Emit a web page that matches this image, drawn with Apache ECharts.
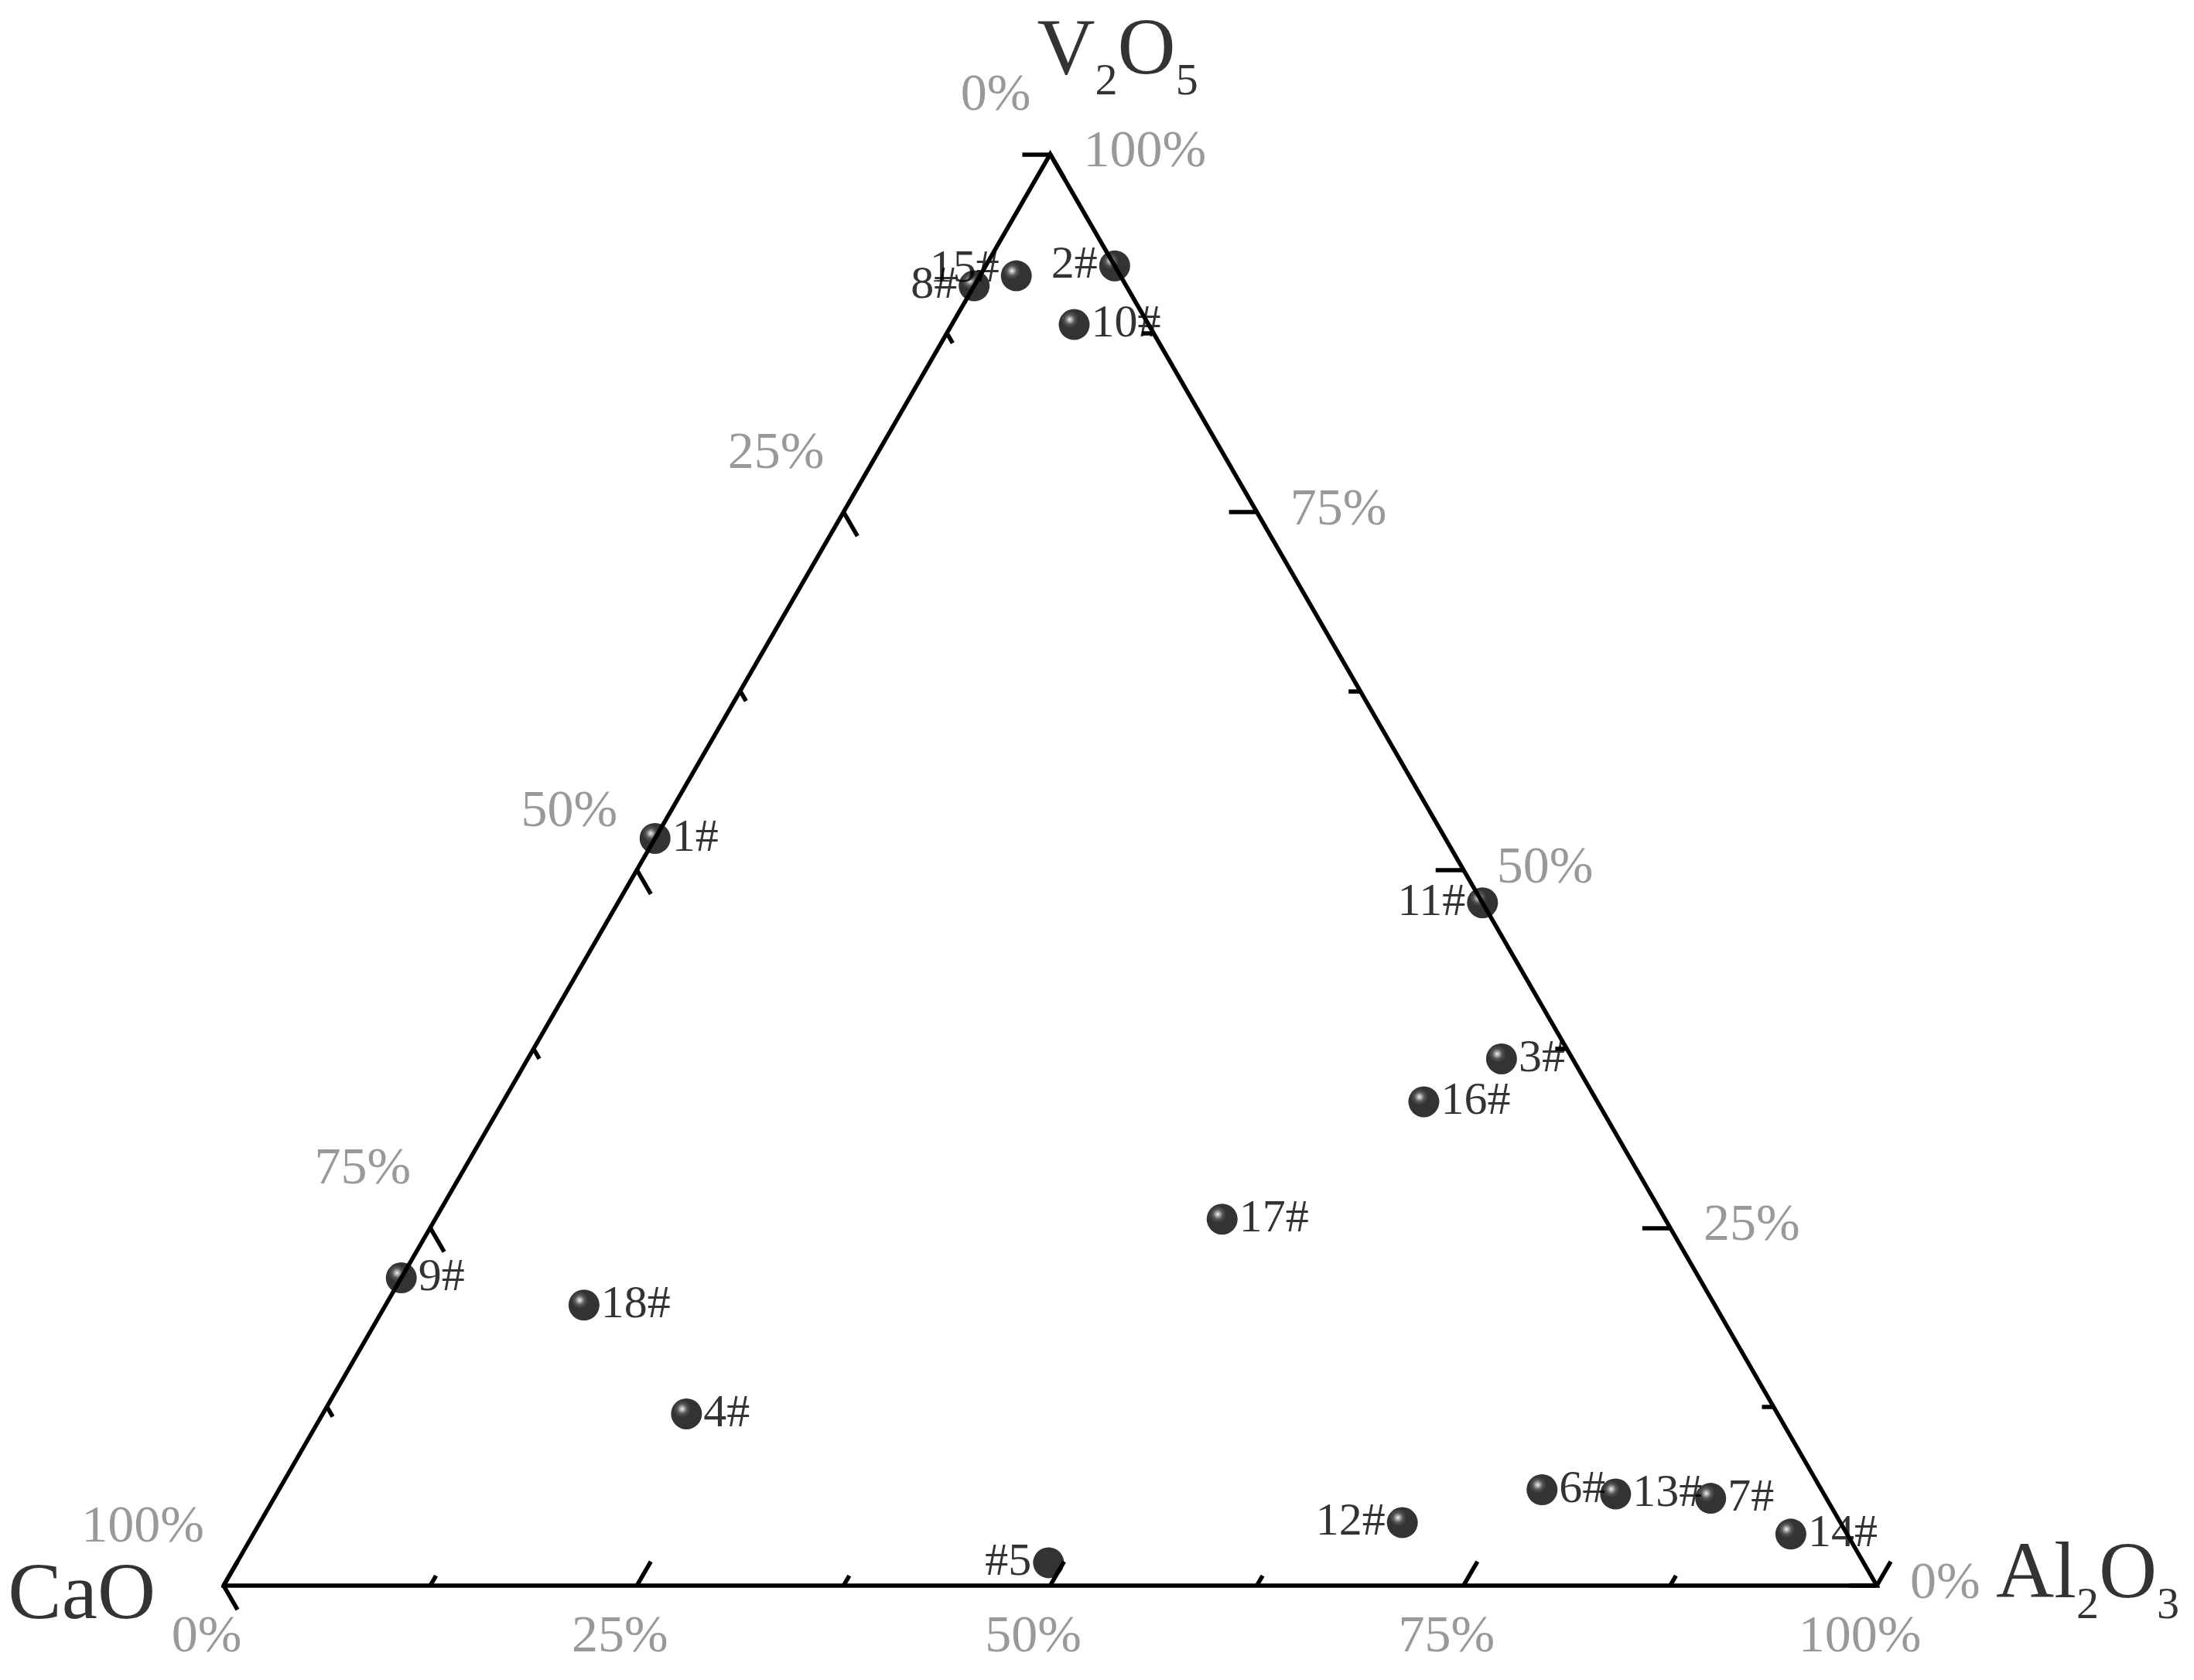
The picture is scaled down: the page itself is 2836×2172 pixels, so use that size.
<!DOCTYPE html>
<html>
<head>
<meta charset="utf-8">
<script src="https://cdn.jsdelivr.net/npm/echarts@6/dist/echarts.min.js"></script>
<style>
  html, body { margin: 0; padding: 0; background: #fff; }
  #chart { width: 2836px; height: 2172px; }
</style>
</head>
<body>
<div id="chart"></div>
<script>
// sample compositions, in percent (CaO + Al2O3 + V2O5 = 100)
const sampleNames = ['1#', '2#', '3#', '4#', '#5', '6#', '7#', '8#', '9#', '10#', '11#', '12#', '13#', '14#', '15#', '16#', '17#', '18#'];
const cao   = [47.8, 0,    4.3,  66, 49.3, 16.9, 7.0,  9.2,  78.5, 4.5,  0,    26.5, 12.6, 3.4,  6.3,  10.5, 26.8, 68.4];
const al2o3 = [0,    7.8,  58.9, 22, 49.1, 76.4, 86.9, 0,    0,    7.4,  52.3, 69.1, 81.0, 93.0, 2.2,  55.7, 47.6, 12.0];
const v2o5  = [52.2, 92.2, 36.8, 12, 1.6,  6.7,  6.1,  90.8, 21.5, 88.1, 47.7, 4.4,  6.4,  3.6,  91.5, 33.8, 25.6, 19.6];
const labelSide = ['right', 'left', 'right', 'right', 'left', 'right', 'right', 'left', 'right', 'right', 'left', 'left', 'right', 'right', 'left', 'right', 'right', 'right'];

const majorTicks = [0, 25, 50, 75, 100];
const minorTicks = [12.5, 37.5, 62.5, 87.5];
const tickLabels = ['0%', '25%', '50%', '75%', '100%'];

const H = Math.sqrt(3) / 2;
const SIDE_PX = 2137;
const FONT = 'Liberation Serif';

// ternary -> cartesian (CaO bottom-left, Al2O3 bottom-right, V2O5 top)
const toXY = (c, a, v) => {
  const s = c + a + v;
  return [a / s + v / s / 2, (v / s) * H];
};
const bottomPt = (p) => toXY(100 - p, p, 0);
const rightPt = (p) => toXY(0, 100 - p, p);
const leftPt = (p) => toXY(p, 0, 100 - p);

const tickSeg = (pt, dir, px) => {
  const len = px / SIDE_PX;
  return { coords: [pt, [pt[0] + dir[0] * len, pt[1] + dir[1] * len]] };
};

const tickData = [];
[[majorTicks, 36], [minorTicks, 15]].forEach(([vals, len]) => {
  vals.forEach((p) => {
    tickData.push(tickSeg(bottomPt(p), [0.5, H], len));
    tickData.push(tickSeg(rightPt(p), [-1, 0], len));
    tickData.push(tickSeg(leftPt(p), [0.5, -H], len));
  });
});

const tickLabelSeries = (ptFn, align, offset) => ({
  type: 'scatter',
  symbolSize: 1,
  clip: false,
  silent: true,
  itemStyle: { color: 'rgba(0,0,0,0)' },
  data: majorTicks.map((p, i) => ({ value: ptFn(p), name: tickLabels[i] })),
  label: {
    show: true,
    position: 'inside',
    formatter: '{b}',
    align,
    verticalAlign: 'middle',
    offset,
    fontFamily: FONT,
    fontSize: 68,
    color: '#808080'
  }
});

const rich = {
  m: { fontFamily: FONT, fontSize: 104, lineHeight: 136, color: '#000' },
  s: { fontFamily: FONT, fontSize: 58, lineHeight: 58, verticalAlign: 'bottom', color: '#000' }
};

const ball = {
  type: 'radial',
  x: 0.36,
  y: 0.34,
  r: 0.62,
  colorStops: [
    { offset: 0, color: '#f4f4f4' },
    { offset: 0.1, color: '#a0a0a0' },
    { offset: 0.26, color: '#2a2a2a' },
    { offset: 0.45, color: '#000' },
    { offset: 1, color: '#000' }
  ]
};

const points = sampleNames.map((name, i) => {
  const item = {
    name,
    value: toXY(cao[i], al2o3[i], v2o5[i]),
    label: { position: labelSide[i] }
  };
  if (name === '#5') item.itemStyle = { color: '#000' };
  if (name === '15#') item.label.offset = [0, -8];
  return item;
});

const chart = echarts.init(document.getElementById('chart'), null, { renderer: 'canvas' });

chart.setOption({
  animation: false,
  backgroundColor: '#fff',
  grid: { left: 289, top: 199.3, width: SIDE_PX, height: SIDE_PX * H },
  xAxis: { type: 'value', min: 0, max: 1, show: false },
  yAxis: { type: 'value', min: 0, max: H, show: false },
  series: [
    {
      type: 'line',
      clip: false,
      silent: true,
      symbol: 'none',
      data: [[0, 0], [1, 0], [0.5, H], [0, 0], [1, 0]],
      lineStyle: { color: '#000', width: 5.5, join: 'miter' }
    },
    {
      type: 'lines',
      coordinateSystem: 'cartesian2d',
      clip: false,
      silent: true,
      data: tickData,
      lineStyle: { color: '#000', width: 5.5, opacity: 1, curveness: 0 }
    },
    tickLabelSeries(bottomPt, 'center', [-22, 67]),
    tickLabelSeries(rightPt, 'left', [43, -2]),
    tickLabelSeries(leftPt, 'right', [-25, -75]),
    {
      type: 'scatter',
      symbolSize: 1,
      clip: false,
      silent: true,
      itemStyle: { color: 'rgba(0,0,0,0)' },
      label: { show: true, position: 'inside', verticalAlign: 'middle', rich },
      data: [
        { value: toXY(0, 0, 100), label: { formatter: '{m|V}{s|2}{m|O}{s|5}', align: 'left', offset: [-17, -132] } },
        { value: toXY(100, 0, 0), label: { formatter: '{m|CaO}', align: 'right', offset: [-88, 15] } },
        { value: toXY(0, 100, 0), label: { formatter: '{m|Al}{s|2}{m|O}{s|3}', align: 'left', offset: [154, -12] } }
      ]
    },
    {
      type: 'scatter',
      clip: false,
      symbol: 'circle',
      symbolSize: 40,
      itemStyle: { color: ball },
      label: {
        show: true,
        formatter: '{b}',
        distance: 2,
        fontFamily: FONT,
        fontSize: 60,
        color: '#000'
      },
      data: points
    }
  ]
});
</script>
</body>
</html>
